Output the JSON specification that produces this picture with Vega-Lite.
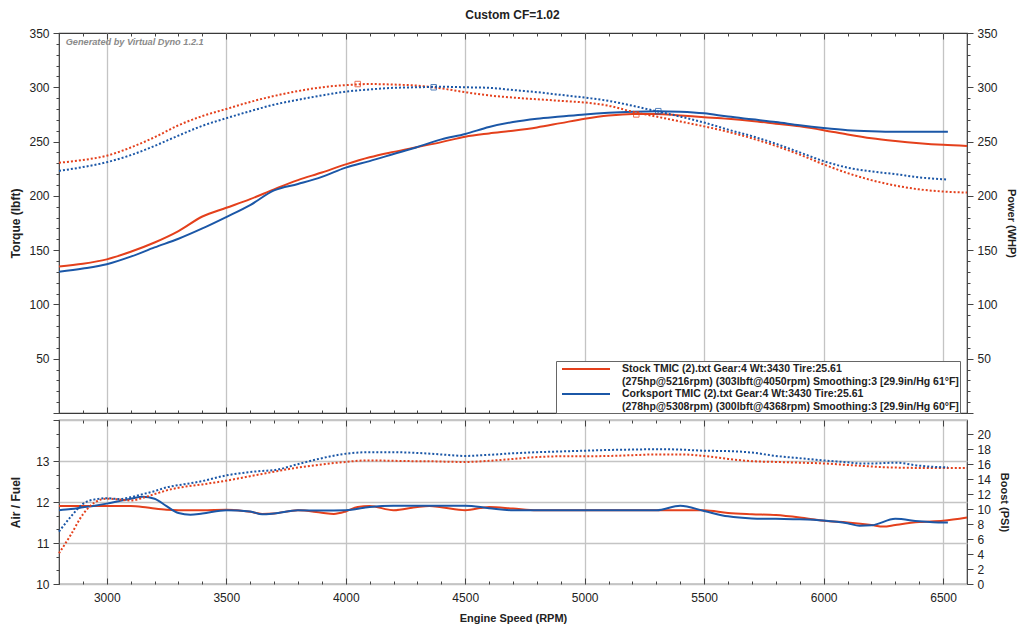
{
  "$schema": "https://vega.github.io/schema/vega-lite/v6.json",
  "background": "white",
  "padding": {"left": 8, "right": 4, "top": 9, "bottom": 4},
  "title": {"text": "Custom CF=1.02", "font": "Liberation Sans", "fontSize": 12, "fontWeight": "bold", "color": "#222", "anchor": "middle", "offset": 4},
  "config": {
    "font": "Liberation Sans",
    "view": {"stroke": "#3a3a3a", "strokeWidth": 1.2},
    "axis": {
      "domain": false,
      "labelFont": "Liberation Sans", "labelFontSize": 12, "labelColor": "#222",
      "titleFont": "Liberation Sans", "titleFontSize": 12, "titleFontWeight": "bold", "titleColor": "#222",
      "tickColor": "#444", "gridColor": "#c4c4c4", "gridWidth": 1.3,
      "labelOverlap": false, "labelFlush": false, "labelBound": false
    }
  },
  "datasets": {
    "dyno": [
      {"run": "Stock", "rpm": 2800, "tq": 230.5, "hp": 135},
      {"run": "Stock", "rpm": 2900, "tq": 233, "hp": 137.5},
      {"run": "Stock", "rpm": 3000, "tq": 237, "hp": 141.5},
      {"run": "Stock", "rpm": 3100, "tq": 244.5, "hp": 148.5},
      {"run": "Stock", "rpm": 3200, "tq": 254, "hp": 157},
      {"run": "Stock", "rpm": 3300, "tq": 265, "hp": 167.5},
      {"run": "Stock", "rpm": 3400, "tq": 273.5, "hp": 181},
      {"run": "Stock", "rpm": 3500, "tq": 280, "hp": 189},
      {"run": "Stock", "rpm": 3600, "tq": 286.5, "hp": 197},
      {"run": "Stock", "rpm": 3700, "tq": 292, "hp": 206},
      {"run": "Stock", "rpm": 3800, "tq": 296.5, "hp": 214.5},
      {"run": "Stock", "rpm": 3900, "tq": 300, "hp": 221.5},
      {"run": "Stock", "rpm": 4000, "tq": 302, "hp": 229},
      {"run": "Stock", "rpm": 4100, "tq": 303, "hp": 235.5},
      {"run": "Stock", "rpm": 4200, "tq": 302.5, "hp": 240.5},
      {"run": "Stock", "rpm": 4300, "tq": 301.5, "hp": 245},
      {"run": "Stock", "rpm": 4400, "tq": 299, "hp": 249.5},
      {"run": "Stock", "rpm": 4500, "tq": 295.5, "hp": 254.5},
      {"run": "Stock", "rpm": 4600, "tq": 292.5, "hp": 257.5},
      {"run": "Stock", "rpm": 4700, "tq": 290.5, "hp": 260},
      {"run": "Stock", "rpm": 4800, "tq": 289, "hp": 263},
      {"run": "Stock", "rpm": 4900, "tq": 287.5, "hp": 267},
      {"run": "Stock", "rpm": 5000, "tq": 286, "hp": 271},
      {"run": "Stock", "rpm": 5100, "tq": 283, "hp": 274},
      {"run": "Stock", "rpm": 5200, "tq": 277.5, "hp": 275.5},
      {"run": "Stock", "rpm": 5300, "tq": 273, "hp": 275.5},
      {"run": "Stock", "rpm": 5400, "tq": 268.5, "hp": 274},
      {"run": "Stock", "rpm": 5500, "tq": 264, "hp": 272.5},
      {"run": "Stock", "rpm": 5600, "tq": 259, "hp": 271},
      {"run": "Stock", "rpm": 5700, "tq": 253, "hp": 269},
      {"run": "Stock", "rpm": 5800, "tq": 246, "hp": 266.5},
      {"run": "Stock", "rpm": 5900, "tq": 238, "hp": 264},
      {"run": "Stock", "rpm": 6000, "tq": 229, "hp": 260.5},
      {"run": "Stock", "rpm": 6100, "tq": 221, "hp": 256.5},
      {"run": "Stock", "rpm": 6200, "tq": 214.5, "hp": 253},
      {"run": "Stock", "rpm": 6300, "tq": 209.5, "hp": 250.5},
      {"run": "Stock", "rpm": 6400, "tq": 206, "hp": 248.5},
      {"run": "Stock", "rpm": 6500, "tq": 204, "hp": 247},
      {"run": "Stock", "rpm": 6600, "tq": 203, "hp": 246},
      {"run": "Corksport", "rpm": 2800, "tq": 223, "hp": 130},
      {"run": "Corksport", "rpm": 2900, "tq": 226.5, "hp": 133},
      {"run": "Corksport", "rpm": 3000, "tq": 231, "hp": 137},
      {"run": "Corksport", "rpm": 3100, "tq": 237.5, "hp": 144},
      {"run": "Corksport", "rpm": 3200, "tq": 246, "hp": 152.5},
      {"run": "Corksport", "rpm": 3300, "tq": 255.5, "hp": 160.5},
      {"run": "Corksport", "rpm": 3400, "tq": 264.5, "hp": 170},
      {"run": "Corksport", "rpm": 3500, "tq": 271.5, "hp": 180.5},
      {"run": "Corksport", "rpm": 3600, "tq": 278, "hp": 191.5},
      {"run": "Corksport", "rpm": 3700, "tq": 284, "hp": 205},
      {"run": "Corksport", "rpm": 3800, "tq": 288.5, "hp": 211},
      {"run": "Corksport", "rpm": 3900, "tq": 292.5, "hp": 217.5},
      {"run": "Corksport", "rpm": 4000, "tq": 296, "hp": 226},
      {"run": "Corksport", "rpm": 4100, "tq": 298, "hp": 232},
      {"run": "Corksport", "rpm": 4200, "tq": 299.5, "hp": 238.5},
      {"run": "Corksport", "rpm": 4300, "tq": 300, "hp": 245},
      {"run": "Corksport", "rpm": 4400, "tq": 300.5, "hp": 252},
      {"run": "Corksport", "rpm": 4500, "tq": 300, "hp": 257},
      {"run": "Corksport", "rpm": 4600, "tq": 299.5, "hp": 263.5},
      {"run": "Corksport", "rpm": 4700, "tq": 297.5, "hp": 268},
      {"run": "Corksport", "rpm": 4800, "tq": 295.5, "hp": 271},
      {"run": "Corksport", "rpm": 4900, "tq": 293, "hp": 273},
      {"run": "Corksport", "rpm": 5000, "tq": 290.5, "hp": 275},
      {"run": "Corksport", "rpm": 5100, "tq": 287.5, "hp": 276.5},
      {"run": "Corksport", "rpm": 5200, "tq": 283, "hp": 277.5},
      {"run": "Corksport", "rpm": 5300, "tq": 278, "hp": 278},
      {"run": "Corksport", "rpm": 5400, "tq": 273, "hp": 277.5},
      {"run": "Corksport", "rpm": 5500, "tq": 267.5, "hp": 276},
      {"run": "Corksport", "rpm": 5600, "tq": 261, "hp": 273},
      {"run": "Corksport", "rpm": 5700, "tq": 255, "hp": 270.5},
      {"run": "Corksport", "rpm": 5800, "tq": 248, "hp": 268},
      {"run": "Corksport", "rpm": 5900, "tq": 240, "hp": 265},
      {"run": "Corksport", "rpm": 6000, "tq": 232, "hp": 262.5},
      {"run": "Corksport", "rpm": 6100, "tq": 226, "hp": 260.5},
      {"run": "Corksport", "rpm": 6200, "tq": 222.5, "hp": 259.5},
      {"run": "Corksport", "rpm": 6300, "tq": 220, "hp": 259},
      {"run": "Corksport", "rpm": 6400, "tq": 217, "hp": 259},
      {"run": "Corksport", "rpm": 6500, "tq": 215.3, "hp": 259},
      {"run": "Corksport", "rpm": 6520, "tq": 215, "hp": 259}
    ],
    "peaks": [
      {"run": "Stock", "rpm": 4050, "val": 303},
      {"run": "Corksport", "rpm": 4368, "val": 300},
      {"run": "Stock", "rpm": 5216, "val": 275},
      {"run": "Corksport", "rpm": 5308, "val": 278}
    ],
    "afr": [
      {"run": "Stock", "rpm": 2800, "afr": 11.9, "boost": 4.1},
      {"run": "Stock", "rpm": 2850, "afr": 11.9, "boost": 6.6},
      {"run": "Stock", "rpm": 2900, "afr": 11.9, "boost": 9.3},
      {"run": "Stock", "rpm": 2950, "afr": 11.9, "boost": 10.9},
      {"run": "Stock", "rpm": 3000, "afr": 11.9, "boost": 11.4},
      {"run": "Stock", "rpm": 3050, "afr": 11.9, "boost": 11.3},
      {"run": "Stock", "rpm": 3100, "afr": 11.9, "boost": 11.15},
      {"run": "Stock", "rpm": 3150, "afr": 11.88, "boost": 11.5},
      {"run": "Stock", "rpm": 3200, "afr": 11.84, "boost": 12.0},
      {"run": "Stock", "rpm": 3250, "afr": 11.81, "boost": 12.5},
      {"run": "Stock", "rpm": 3300, "afr": 11.8, "boost": 12.85},
      {"run": "Stock", "rpm": 3400, "afr": 11.8, "boost": 13.3},
      {"run": "Stock", "rpm": 3500, "afr": 11.81, "boost": 13.8},
      {"run": "Stock", "rpm": 3600, "afr": 11.76, "boost": 14.4},
      {"run": "Stock", "rpm": 3650, "afr": 11.71, "boost": 14.7},
      {"run": "Stock", "rpm": 3700, "afr": 11.72, "boost": 15.0},
      {"run": "Stock", "rpm": 3800, "afr": 11.8, "boost": 15.55},
      {"run": "Stock", "rpm": 3900, "afr": 11.74, "boost": 15.95},
      {"run": "Stock", "rpm": 3950, "afr": 11.71, "boost": 16.15},
      {"run": "Stock", "rpm": 4000, "afr": 11.77, "boost": 16.3},
      {"run": "Stock", "rpm": 4050, "afr": 11.88, "boost": 16.45},
      {"run": "Stock", "rpm": 4100, "afr": 11.9, "boost": 16.5},
      {"run": "Stock", "rpm": 4200, "afr": 11.8, "boost": 16.45},
      {"run": "Stock", "rpm": 4300, "afr": 11.88, "boost": 16.4},
      {"run": "Stock", "rpm": 4350, "afr": 11.9, "boost": 16.4},
      {"run": "Stock", "rpm": 4400, "afr": 11.87, "boost": 16.35},
      {"run": "Stock", "rpm": 4500, "afr": 11.8, "boost": 16.3},
      {"run": "Stock", "rpm": 4600, "afr": 11.88, "boost": 16.45},
      {"run": "Stock", "rpm": 4700, "afr": 11.84, "boost": 16.7},
      {"run": "Stock", "rpm": 4800, "afr": 11.8, "boost": 16.95},
      {"run": "Stock", "rpm": 4900, "afr": 11.8, "boost": 17.05},
      {"run": "Stock", "rpm": 5000, "afr": 11.8, "boost": 17.05},
      {"run": "Stock", "rpm": 5100, "afr": 11.8, "boost": 17.1},
      {"run": "Stock", "rpm": 5200, "afr": 11.8, "boost": 17.2},
      {"run": "Stock", "rpm": 5300, "afr": 11.8, "boost": 17.3},
      {"run": "Stock", "rpm": 5400, "afr": 11.8, "boost": 17.3},
      {"run": "Stock", "rpm": 5500, "afr": 11.8, "boost": 17.1},
      {"run": "Stock", "rpm": 5600, "afr": 11.73, "boost": 16.7},
      {"run": "Stock", "rpm": 5700, "afr": 11.7, "boost": 16.4},
      {"run": "Stock", "rpm": 5800, "afr": 11.68, "boost": 16.3},
      {"run": "Stock", "rpm": 5900, "afr": 11.62, "boost": 16.2},
      {"run": "Stock", "rpm": 6000, "afr": 11.54, "boost": 16.1},
      {"run": "Stock", "rpm": 6100, "afr": 11.5, "boost": 15.9},
      {"run": "Stock", "rpm": 6200, "afr": 11.44, "boost": 15.7},
      {"run": "Stock", "rpm": 6250, "afr": 11.4, "boost": 15.6},
      {"run": "Stock", "rpm": 6300, "afr": 11.44, "boost": 15.55},
      {"run": "Stock", "rpm": 6400, "afr": 11.51, "boost": 15.5},
      {"run": "Stock", "rpm": 6500, "afr": 11.54, "boost": 15.5},
      {"run": "Stock", "rpm": 6600, "afr": 11.62, "boost": 15.5},
      {"run": "Corksport", "rpm": 2800, "afr": 11.8, "boost": 7.0},
      {"run": "Corksport", "rpm": 2850, "afr": 11.83, "boost": 9.0},
      {"run": "Corksport", "rpm": 2900, "afr": 11.87, "boost": 10.7},
      {"run": "Corksport", "rpm": 2950, "afr": 11.91, "boost": 11.3},
      {"run": "Corksport", "rpm": 3000, "afr": 11.96, "boost": 11.45},
      {"run": "Corksport", "rpm": 3050, "afr": 12.02, "boost": 11.35},
      {"run": "Corksport", "rpm": 3100, "afr": 12.08, "boost": 11.6},
      {"run": "Corksport", "rpm": 3150, "afr": 12.13, "boost": 12.0},
      {"run": "Corksport", "rpm": 3200, "afr": 12.08, "boost": 12.4},
      {"run": "Corksport", "rpm": 3250, "afr": 11.9, "boost": 12.9},
      {"run": "Corksport", "rpm": 3300, "afr": 11.73, "boost": 13.2},
      {"run": "Corksport", "rpm": 3350, "afr": 11.69, "boost": 13.45},
      {"run": "Corksport", "rpm": 3400, "afr": 11.72, "boost": 13.75},
      {"run": "Corksport", "rpm": 3500, "afr": 11.8, "boost": 14.5},
      {"run": "Corksport", "rpm": 3600, "afr": 11.77, "boost": 14.95},
      {"run": "Corksport", "rpm": 3650, "afr": 11.7, "boost": 15.1},
      {"run": "Corksport", "rpm": 3700, "afr": 11.72, "boost": 15.2},
      {"run": "Corksport", "rpm": 3800, "afr": 11.8, "boost": 16.0},
      {"run": "Corksport", "rpm": 3900, "afr": 11.79, "boost": 16.8},
      {"run": "Corksport", "rpm": 4000, "afr": 11.8, "boost": 17.4},
      {"run": "Corksport", "rpm": 4100, "afr": 11.88, "boost": 17.6},
      {"run": "Corksport", "rpm": 4200, "afr": 11.91, "boost": 17.6},
      {"run": "Corksport", "rpm": 4300, "afr": 11.91, "boost": 17.5},
      {"run": "Corksport", "rpm": 4400, "afr": 11.91, "boost": 17.3},
      {"run": "Corksport", "rpm": 4500, "afr": 11.91, "boost": 17.1},
      {"run": "Corksport", "rpm": 4600, "afr": 11.85, "boost": 17.25},
      {"run": "Corksport", "rpm": 4700, "afr": 11.8, "boost": 17.45},
      {"run": "Corksport", "rpm": 4800, "afr": 11.8, "boost": 17.6},
      {"run": "Corksport", "rpm": 4900, "afr": 11.8, "boost": 17.7},
      {"run": "Corksport", "rpm": 5000, "afr": 11.8, "boost": 17.8},
      {"run": "Corksport", "rpm": 5100, "afr": 11.8, "boost": 17.9},
      {"run": "Corksport", "rpm": 5200, "afr": 11.8, "boost": 17.95},
      {"run": "Corksport", "rpm": 5300, "afr": 11.8, "boost": 18.0},
      {"run": "Corksport", "rpm": 5400, "afr": 11.91, "boost": 17.95},
      {"run": "Corksport", "rpm": 5500, "afr": 11.78, "boost": 17.8},
      {"run": "Corksport", "rpm": 5600, "afr": 11.65, "boost": 17.75},
      {"run": "Corksport", "rpm": 5700, "afr": 11.6, "boost": 17.55},
      {"run": "Corksport", "rpm": 5800, "afr": 11.59, "boost": 17.1},
      {"run": "Corksport", "rpm": 5900, "afr": 11.58, "boost": 16.8},
      {"run": "Corksport", "rpm": 6000, "afr": 11.55, "boost": 16.5},
      {"run": "Corksport", "rpm": 6100, "afr": 11.48, "boost": 16.25},
      {"run": "Corksport", "rpm": 6150, "afr": 11.42, "boost": 16.1},
      {"run": "Corksport", "rpm": 6200, "afr": 11.43, "boost": 16.1},
      {"run": "Corksport", "rpm": 6300, "afr": 11.59, "boost": 16.2},
      {"run": "Corksport", "rpm": 6400, "afr": 11.53, "boost": 15.8},
      {"run": "Corksport", "rpm": 6500, "afr": 11.5, "boost": 15.6},
      {"run": "Corksport", "rpm": 6520, "afr": 11.5, "boost": 15.6}
    ]
  },
  "spacing": -7,
  "resolve": {"scale": {"color": "independent"}},
  "vconcat": [
    {
      "width": 908,
      "height": 380,
      "layer": [
        {
          "data": {"name": "dyno"},
          "mark": {"type": "line", "strokeWidth": 2, "interpolate": "monotone"},
          "encoding": {
            "x": {
              "field": "rpm", "type": "quantitative",
              "scale": {"domain": [2800, 6600], "nice": false, "zero": false},
              "axis": {
                "orient": "bottom", "title": null, "labels": false,
                "values": [2800,2900,3000,3100,3200,3300,3400,3500,3600,3700,3800,3900,4000,4100,4200,4300,4400,4500,4600,4700,4800,4900,5000,5100,5200,5300,5400,5500,5600,5700,5800,5900,6000,6100,6200,6300,6400,6500,6600],
                "tickSize": {"condition": {"test": "datum.value % 500 === 0", "value": -6}, "value": -3},
                "gridOpacity": {"condition": {"test": "datum.value % 500 === 0", "value": 1}, "value": 0}
              }
            },
            "y": {
              "field": "hp", "type": "quantitative",
              "scale": {"domain": [0, 350], "nice": false},
              "axis": {
                "orient": "right", "title": "Power (WHP)", "titleFontSize": 11, "titlePadding": 8,
                "values": [0,10,20,30,40,50,60,70,80,90,100,110,120,130,140,150,160,170,180,190,200,210,220,230,240,250,260,270,280,290,300,310,320,330,340,350],
                "labelExpr": "datum.value % 50 === 0 && datum.value > 0 ? datum.label : ''",
                "tickSize": {"condition": {"test": "datum.value % 50 === 0", "value": 6}, "value": 3},
                "labelPadding": 4,
                "grid": false
              }
            },
            "color": {
              "field": "run", "type": "nominal",
              "scale": {"domain": ["Stock", "Corksport"], "range": ["#e4401c", "#1b57a7"]},
              "legend": {
                "orient": "none", "legendX": 497, "legendY": 328,
                "title": null, "direction": "vertical",
                "symbolType": "M-4,0H4", "symbolStrokeWidth": 2, "symbolSize": 144, "symbolOffset": 22,
                "labelFont": "Liberation Sans", "labelFontSize": 10.5, "labelFontWeight": "bold", "labelColor": "#222",
                "labelLimit": 500, "labelOffset": 29, "rowPadding": 0,
                "fillColor": "white", "strokeColor": "#666", "padding": 1, "cornerRadius": 0,
                "labelExpr": "datum.label === 'Stock' ? ['Stock TMIC (2).txt Gear:4 Wt:3430 Tire:25.61', '(275hp@5216rpm) (303lbft@4050rpm) Smoothing:3 [29.9in/Hg 61°F]'] : ['Corksport TMIC (2).txt Gear:4 Wt:3430 Tire:25.61', '(278hp@5308rpm) (300lbft@4368rpm) Smoothing:3 [29.9in/Hg 60°F]']"
              }
            }
          }
        },
        {
          "data": {"name": "dyno"},
          "mark": {"type": "line", "strokeWidth": 2, "strokeDash": [2, 2], "interpolate": "monotone"},
          "encoding": {
            "x": {
              "field": "rpm", "type": "quantitative",
              "scale": {"domain": [2800, 6600], "nice": false, "zero": false},
              "axis": {
                "orient": "top", "title": null, "labels": false, "grid": false,
                "values": [2800,2900,3000,3100,3200,3300,3400,3500,3600,3700,3800,3900,4000,4100,4200,4300,4400,4500,4600,4700,4800,4900,5000,5100,5200,5300,5400,5500,5600,5700,5800,5900,6000,6100,6200,6300,6400,6500,6600],
                "tickSize": {"condition": {"test": "datum.value % 500 === 0", "value": -6}, "value": -3}
              }
            },
            "y": {
              "field": "tq", "type": "quantitative",
              "scale": {"domain": [0, 350], "nice": false},
              "axis": {
                "orient": "left", "title": "Torque (lbft)", "titlePadding": 7, "minExtent": 30, "maxExtent": 30,
                "values": [0,10,20,30,40,50,60,70,80,90,100,110,120,130,140,150,160,170,180,190,200,210,220,230,240,250,260,270,280,290,300,310,320,330,340,350],
                "labelExpr": "datum.value % 50 === 0 && datum.value > 0 ? datum.label : ''",
                "tickSize": {"condition": {"test": "datum.value % 50 === 0", "value": 6}, "value": 3},
                "labelPadding": 4,
                "gridOpacity": {"condition": {"test": "datum.value % 50 === 0", "value": 1}, "value": 0}
              }
            },
            "color": {"field": "run", "type": "nominal", "scale": {"domain": ["Stock", "Corksport"], "range": ["#e4401c", "#1b57a7"]}}
          }
        },
        {
          "data": {"name": "peaks"},
          "mark": {"type": "point", "shape": "square", "filled": false, "size": 30, "strokeWidth": 1, "opacity": 0.75},
          "encoding": {
            "x": {"field": "rpm", "type": "quantitative", "scale": {"domain": [2800, 6600], "nice": false, "zero": false}, "axis": null},
            "y": {"field": "val", "type": "quantitative", "scale": {"domain": [0, 350], "nice": false}, "axis": null},
            "stroke": {"field": "run", "type": "nominal", "scale": {"domain": ["Stock", "Corksport"], "range": ["#e4401c", "#1b57a7"]}, "legend": null}
          }
        },
        {
          "data": {"values": [{"note": "Generated by Virtual Dyno 1.2.1"}]},
          "mark": {"type": "text", "align": "left", "baseline": "middle", "font": "Liberation Sans", "fontSize": 9.2, "fontWeight": "bold", "fontStyle": "italic", "color": "#8a8a8a"},
          "encoding": {
            "x": {"datum": 2828, "type": "quantitative", "scale": {"domain": [2800, 6600], "nice": false, "zero": false}, "axis": null},
            "y": {"datum": 342, "type": "quantitative", "scale": {"domain": [0, 350], "nice": false}, "axis": null},
            "text": {"field": "note"}
          }
        }
      ],
      "resolve": {"scale": {"y": "independent", "stroke": "independent"}, "axis": {"x": "independent", "y": "independent"}}
    },
    {
      "width": 908,
      "height": 164,
      "data": {"name": "afr"},
      "layer": [
        {
          "mark": {"type": "line", "strokeWidth": 2, "interpolate": "monotone"},
          "encoding": {
            "x": {
              "field": "rpm", "type": "quantitative",
              "scale": {"domain": [2800, 6600], "nice": false, "zero": false},
              "axis": {
                "orient": "bottom", "title": "Engine Speed (RPM)", "titleFontSize": 11, "titlePadding": 6,
                "format": "d",
                "values": [2800,2900,3000,3100,3200,3300,3400,3500,3600,3700,3800,3900,4000,4100,4200,4300,4400,4500,4600,4700,4800,4900,5000,5100,5200,5300,5400,5500,5600,5700,5800,5900,6000,6100,6200,6300,6400,6500,6600],
                "labelExpr": "datum.value % 500 === 0 ? datum.label : ''",
                "tickSize": {"condition": {"test": "datum.value % 500 === 0", "value": -6}, "value": -3},
                "labelPadding": 14,
                "gridOpacity": {"condition": {"test": "datum.value % 500 === 0", "value": 1}, "value": 0}
              }
            },
            "y": {
              "field": "afr", "type": "quantitative",
              "scale": {"domain": [10, 14], "nice": false, "zero": false},
              "axis": {
                "orient": "left", "title": "Air / Fuel", "titlePadding": 7, "minExtent": 30, "maxExtent": 30,
                "values": [10, 10.333, 10.667, 11, 11.333, 11.667, 12, 12.333, 12.667, 13, 13.333, 13.667, 14],
                "labelExpr": "datum.value % 1 === 0 && datum.value < 14 ? format(datum.value, 'd') : ''",
                "tickSize": {"condition": {"test": "datum.value % 1 === 0", "value": 6}, "value": 3},
                "labelPadding": 4,
                "gridOpacity": {"condition": {"test": "datum.value % 1 === 0", "value": 1}, "value": 0}
              }
            },
            "color": {"field": "run", "type": "nominal", "scale": {"domain": ["Stock", "Corksport"], "range": ["#e4401c", "#1b57a7"]}, "legend": null}
          }
        },
        {
          "mark": {"type": "line", "strokeWidth": 2, "strokeDash": [2, 2], "interpolate": "monotone"},
          "encoding": {
            "x": {
              "field": "rpm", "type": "quantitative",
              "scale": {"domain": [2800, 6600], "nice": false, "zero": false},
              "axis": {
                "orient": "top", "title": null, "labels": false, "grid": false,
                "values": [2800,2900,3000,3100,3200,3300,3400,3500,3600,3700,3800,3900,4000,4100,4200,4300,4400,4500,4600,4700,4800,4900,5000,5100,5200,5300,5400,5500,5600,5700,5800,5900,6000,6100,6200,6300,6400,6500,6600],
                "tickSize": {"condition": {"test": "datum.value % 500 === 0", "value": -6}, "value": -3}
              }
            },
            "y": {
              "field": "boost", "type": "quantitative",
              "scale": {"domain": [0, 21.9], "nice": false, "zero": false},
              "axis": {
                "orient": "right", "title": "Boost (PSI)", "titleFontSize": 11, "titlePadding": 8,
                "values": [0, 2, 4, 6, 8, 10, 12, 14, 16, 18, 20],
                "tickSize": 6, "labelPadding": 4,
                "gridDash": [2, 3], "gridColor": "#cfcfcf", "gridWidth": 1
              }
            },
            "color": {"field": "run", "type": "nominal", "scale": {"domain": ["Stock", "Corksport"], "range": ["#e4401c", "#1b57a7"]}, "legend": null}
          }
        }
      ],
      "resolve": {"scale": {"y": "independent"}, "axis": {"x": "independent", "y": "independent"}}
    }
  ]
}
